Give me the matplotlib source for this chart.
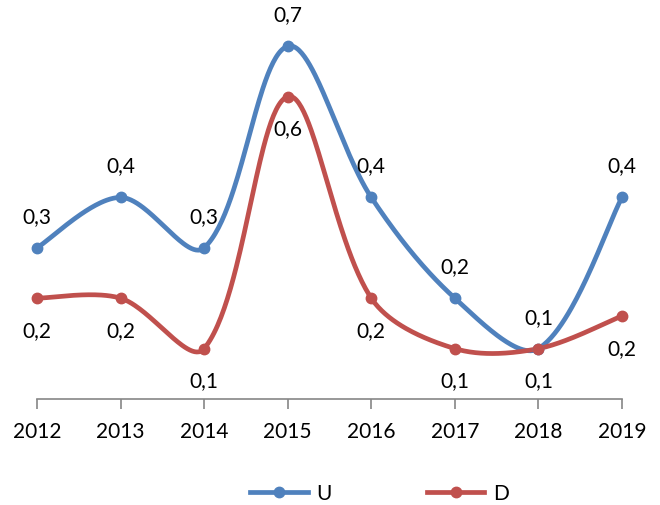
import numpy as np
import matplotlib
matplotlib.use("Agg")
import matplotlib.pyplot as plt

years = ["2012", "2013", "2014", "2015", "2016", "2017", "2018", "2019"]
u_vals = [0.3, 0.4, 0.3, 0.7, 0.4, 0.2, 0.1, 0.4]
d_vals = [0.2, 0.2, 0.1, 0.6, 0.2, 0.1, 0.1, 0.165]
series_names = ["U", "D"]

BLUE = "#4F81BD"
RED = "#C0504D"
FONT = "Lato"
FS = 15

fig = plt.figure(figsize=(6.6, 5.06), dpi=100)
W, H = 660, 506
left_px, right_px, top_px, bot_px = 37, 622, 2, 400
ax = fig.add_axes([left_px / W, 1 - bot_px / H, (right_px - left_px) / W, (bot_px - top_px) / H])
ax.set_xlim(0, len(years) - 1)
ax.set_ylim(0, (bot_px - top_px) / 504.0)
for s in ["left", "right", "top"]:
    ax.spines[s].set_visible(False)
ax.spines["bottom"].set_color("#868686")
ax.spines["bottom"].set_linewidth(1.2)
ax.set_yticks([])
x = np.arange(len(years))
ax.set_xticks(x)
ax.set_xticklabels(years, fontsize=FS, family=FONT)
ax.tick_params(axis="x", length=7, width=1.2, color="#868686", pad=9)


def excel_smooth(xs, ys, n=60):
    pts = ax.transData.transform(np.column_stack([xs, ys]))
    out = []
    npts = len(pts)
    t = 1.0 / 3.0
    for i in range(npts - 1):
        p1 = pts[i]
        p2 = pts[i + 1]
        p0 = pts[i - 1] if i > 0 else p1
        p3 = pts[i + 2] if i + 2 < npts else p2
        d01 = np.linalg.norm(p1 - p0)
        d12 = np.linalg.norm(p2 - p1)
        d23 = np.linalg.norm(p3 - p2)
        f1 = t * d12 / (d01 + d12) if (d01 + d12) > 0 else 0
        f2 = t * d12 / (d12 + d23) if (d12 + d23) > 0 else 0
        if i == 0:
            c1 = p1 + (p2 - p1) / 6.0
        else:
            c1 = p1 + (p2 - p0) * f1
        if i + 2 >= npts:
            c2 = p2 - (p2 - p1) / 6.0
        else:
            c2 = p2 - (p3 - p1) * f2
        tt = np.linspace(0, 1, n)[:, None]
        seg = ((1 - tt) ** 3) * p1 + 3 * ((1 - tt) ** 2) * tt * c1 + 3 * (1 - tt) * tt ** 2 * c2 + tt ** 3 * p2
        if i > 0:
            seg = seg[1:]
        out.append(seg)
    disp = np.vstack(out)
    return ax.transData.inverted().transform(disp)


def fmt(v):
    return f"{v:.1f}".replace(".", ",")


handles = []
for vals, color in [(u_vals, BLUE), (d_vals, RED)]:
    curve = excel_smooth(x, vals)
    ax.plot(curve[:, 0], curve[:, 1], color=color, lw=3.4, clip_on=False,
            solid_capstyle="round", zorder=3)
    ax.plot(x, vals, "o", color=color, ms=7.5, clip_on=False, zorder=4)
    h, = ax.plot([], [], color=color, lw=3.4, marker="o", ms=7.5)
    handles.append(h)

# data labels: U above points, D below points
for vals, o in [(u_vals, 1), (d_vals, -1)]:
    for xi, v in zip(x, vals):
        ax.annotate(fmt(v), (xi, v), xytext=(0, 23 * o), textcoords="offset points",
                    ha="center", va="center", fontsize=FS, family=FONT, zorder=5,
                    annotation_clip=False)

fig.legend(handles, series_names, loc="center", bbox_to_anchor=(0.575, 1 - 494 / H),
           ncol=2, frameon=False, prop={"family": FONT, "size": FS},
           handlelength=2.75, columnspacing=4.6, handletextpad=0.4)

fig.savefig("out.png", dpi=100)
